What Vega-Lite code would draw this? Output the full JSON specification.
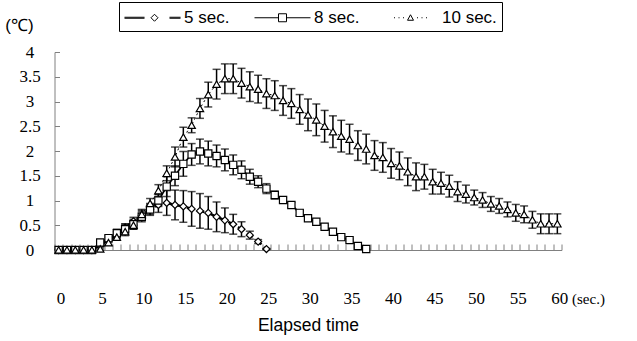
{
 "$schema": "https://vega.github.io/schema/vega-lite/v6.json",
 "width": 507, "height": 198,
 "autosize": "none",
 "padding": {"left": 54.5, "top": 52, "right": 75.5, "bottom": 91},
 "background": "white",
 "config": {"view": {"stroke": null}, "font": "Liberation Sans"},
 "datasets": {"d": [
  {"s":"5 sec.","t":0,"v":0,"e":0},{"s":"5 sec.","t":1,"v":0,"e":0},{"s":"5 sec.","t":2,"v":0,"e":0},{"s":"5 sec.","t":3,"v":0,"e":0},{"s":"5 sec.","t":4,"v":0,"e":0},
  {"s":"5 sec.","t":5,"v":0.1,"e":0.03},{"s":"5 sec.","t":6,"v":0.2,"e":0.05},{"s":"5 sec.","t":7,"v":0.3,"e":0.07},{"s":"5 sec.","t":8,"v":0.45,"e":0.08},{"s":"5 sec.","t":9,"v":0.58,"e":0.08},
  {"s":"5 sec.","t":10,"v":0.7,"e":0.1},{"s":"5 sec.","t":11,"v":0.82,"e":0.1},{"s":"5 sec.","t":12,"v":0.91,"e":0.15},{"s":"5 sec.","t":13,"v":0.95,"e":0.25},{"s":"5 sec.","t":14,"v":0.91,"e":0.3},
  {"s":"5 sec.","t":15,"v":0.88,"e":0.32},{"s":"5 sec.","t":16,"v":0.83,"e":0.35},{"s":"5 sec.","t":17,"v":0.79,"e":0.35},{"s":"5 sec.","t":18,"v":0.75,"e":0.33},{"s":"5 sec.","t":19,"v":0.67,"e":0.3},
  {"s":"5 sec.","t":20,"v":0.6,"e":0.25},{"s":"5 sec.","t":21,"v":0.52,"e":0.2},{"s":"5 sec.","t":22,"v":0.42,"e":0.15},{"s":"5 sec.","t":23,"v":0.3,"e":0.08},{"s":"5 sec.","t":24,"v":0.17,"e":0.04},
  {"s":"5 sec.","t":25,"v":0.02,"e":0.01},
  {"s":"8 sec.","t":0,"v":0,"e":0},{"s":"8 sec.","t":1,"v":0,"e":0},{"s":"8 sec.","t":2,"v":0,"e":0},{"s":"8 sec.","t":3,"v":0,"e":0},{"s":"8 sec.","t":4,"v":0,"e":0},
  {"s":"8 sec.","t":5,"v":0.15,"e":0.03},{"s":"8 sec.","t":6,"v":0.24,"e":0.05},{"s":"8 sec.","t":7,"v":0.34,"e":0.08},{"s":"8 sec.","t":8,"v":0.42,"e":0.1},{"s":"8 sec.","t":9,"v":0.52,"e":0.1},
  {"s":"8 sec.","t":10,"v":0.67,"e":0.1},{"s":"8 sec.","t":11,"v":0.82,"e":0.12},{"s":"8 sec.","t":12,"v":1.0,"e":0.12},{"s":"8 sec.","t":13,"v":1.28,"e":0.2},{"s":"8 sec.","t":14,"v":1.5,"e":0.2},
  {"s":"8 sec.","t":15,"v":1.74,"e":0.25},{"s":"8 sec.","t":16,"v":1.93,"e":0.22},{"s":"8 sec.","t":17,"v":1.99,"e":0.25},{"s":"8 sec.","t":18,"v":1.95,"e":0.25},{"s":"8 sec.","t":19,"v":1.9,"e":0.22},
  {"s":"8 sec.","t":20,"v":1.82,"e":0.22},{"s":"8 sec.","t":21,"v":1.72,"e":0.2},{"s":"8 sec.","t":22,"v":1.62,"e":0.18},{"s":"8 sec.","t":23,"v":1.48,"e":0.15},{"s":"8 sec.","t":24,"v":1.38,"e":0.12},
  {"s":"8 sec.","t":25,"v":1.24,"e":0.1},{"s":"8 sec.","t":26,"v":1.11,"e":0.08},{"s":"8 sec.","t":27,"v":1.01,"e":0.05},{"s":"8 sec.","t":28,"v":0.91,"e":0.05},{"s":"8 sec.","t":29,"v":0.75,"e":0.05},
  {"s":"8 sec.","t":30,"v":0.64,"e":0.03},{"s":"8 sec.","t":31,"v":0.57,"e":0.03},{"s":"8 sec.","t":32,"v":0.47,"e":0.03},{"s":"8 sec.","t":33,"v":0.37,"e":0.03},{"s":"8 sec.","t":34,"v":0.26,"e":0.02},
  {"s":"8 sec.","t":35,"v":0.2,"e":0.02},{"s":"8 sec.","t":36,"v":0.08,"e":0.02},{"s":"8 sec.","t":37,"v":0.02,"e":0.01},
  {"s":"10 sec.","t":0,"v":0,"e":0},{"s":"10 sec.","t":1,"v":0,"e":0},{"s":"10 sec.","t":2,"v":0,"e":0},{"s":"10 sec.","t":3,"v":0,"e":0},{"s":"10 sec.","t":4,"v":0,"e":0},
  {"s":"10 sec.","t":5,"v":0.02,"e":0.02},{"s":"10 sec.","t":6,"v":0.15,"e":0.05},{"s":"10 sec.","t":7,"v":0.26,"e":0.06},{"s":"10 sec.","t":8,"v":0.37,"e":0.08},{"s":"10 sec.","t":9,"v":0.5,"e":0.08},
  {"s":"10 sec.","t":10,"v":0.72,"e":0.1},{"s":"10 sec.","t":11,"v":0.94,"e":0.1},{"s":"10 sec.","t":12,"v":1.2,"e":0.12},{"s":"10 sec.","t":13,"v":1.55,"e":0.15},{"s":"10 sec.","t":14,"v":1.88,"e":0.2},
  {"s":"10 sec.","t":15,"v":2.28,"e":0.2},{"s":"10 sec.","t":16,"v":2.52,"e":0.15},{"s":"10 sec.","t":17,"v":2.86,"e":0.2},{"s":"10 sec.","t":18,"v":3.14,"e":0.25},{"s":"10 sec.","t":19,"v":3.35,"e":0.3},
  {"s":"10 sec.","t":20,"v":3.46,"e":0.3},{"s":"10 sec.","t":21,"v":3.46,"e":0.3},{"s":"10 sec.","t":22,"v":3.37,"e":0.3},{"s":"10 sec.","t":23,"v":3.3,"e":0.3},{"s":"10 sec.","t":24,"v":3.25,"e":0.28},
  {"s":"10 sec.","t":25,"v":3.16,"e":0.3},{"s":"10 sec.","t":26,"v":3.12,"e":0.3},{"s":"10 sec.","t":27,"v":3.02,"e":0.3},{"s":"10 sec.","t":28,"v":2.96,"e":0.3},{"s":"10 sec.","t":29,"v":2.84,"e":0.3},
  {"s":"10 sec.","t":30,"v":2.73,"e":0.32},{"s":"10 sec.","t":31,"v":2.63,"e":0.32},{"s":"10 sec.","t":32,"v":2.5,"e":0.32},{"s":"10 sec.","t":33,"v":2.39,"e":0.32},{"s":"10 sec.","t":34,"v":2.3,"e":0.32},
  {"s":"10 sec.","t":35,"v":2.24,"e":0.3},{"s":"10 sec.","t":36,"v":2.11,"e":0.3},{"s":"10 sec.","t":37,"v":2.04,"e":0.3},{"s":"10 sec.","t":38,"v":1.91,"e":0.3},{"s":"10 sec.","t":39,"v":1.87,"e":0.3},
  {"s":"10 sec.","t":40,"v":1.75,"e":0.3},{"s":"10 sec.","t":41,"v":1.7,"e":0.28},{"s":"10 sec.","t":42,"v":1.58,"e":0.28},{"s":"10 sec.","t":43,"v":1.48,"e":0.28},{"s":"10 sec.","t":44,"v":1.48,"e":0.25},
  {"s":"10 sec.","t":45,"v":1.38,"e":0.25},{"s":"10 sec.","t":46,"v":1.35,"e":0.22},{"s":"10 sec.","t":47,"v":1.29,"e":0.22},{"s":"10 sec.","t":48,"v":1.18,"e":0.2},{"s":"10 sec.","t":49,"v":1.13,"e":0.18},
  {"s":"10 sec.","t":50,"v":1.06,"e":0.15},{"s":"10 sec.","t":51,"v":1.01,"e":0.15},{"s":"10 sec.","t":52,"v":0.93,"e":0.15},{"s":"10 sec.","t":53,"v":0.89,"e":0.15},{"s":"10 sec.","t":54,"v":0.82,"e":0.15},
  {"s":"10 sec.","t":55,"v":0.75,"e":0.17},{"s":"10 sec.","t":56,"v":0.72,"e":0.17},{"s":"10 sec.","t":57,"v":0.61,"e":0.17},{"s":"10 sec.","t":58,"v":0.53,"e":0.2},{"s":"10 sec.","t":59,"v":0.53,"e":0.2},
  {"s":"10 sec.","t":60,"v":0.53,"e":0.2}
 ]},
 "data": {"name": "d"},
 "encoding": {
  "x": {"field": "t", "type": "quantitative",
   "scale": {"domain": [-0.5, 60.5], "nice": false, "zero": false},
   "axis": {
    "values": [-0.5,0.5,1.5,2.5,3.5,4.5,5.5,6.5,7.5,8.5,9.5,10.5,11.5,12.5,13.5,14.5,15.5,16.5,17.5,18.5,19.5,20.5,21.5,22.5,23.5,24.5,25.5,26.5,27.5,28.5,29.5,30.5,31.5,32.5,33.5,34.5,35.5,36.5,37.5,38.5,39.5,40.5,41.5,42.5,43.5,44.5,45.5,46.5,47.5,48.5,49.5,50.5,51.5,52.5,53.5,54.5,55.5,56.5,57.5,58.5,59.5,60.5],
    "labelExpr": "datum.value > 60 ? '(sec.)' : ((datum.value + 0.5) % 5 === 0 ? format(datum.value + 0.5, 'd') : '')",
    "labelOffset": {"condition": {"test": "datum.value > 60", "value": 10}, "value": 6},
    "labelOverlap": false, "labelBound": false, "labelFlush": false,
    "labelAlign": {"condition": {"test": "datum.value > 60", "value": "left"}, "value": "center"},
    "labelFont": {"condition": {"test": "datum.value > 60", "value": "Liberation Serif"}, "value": "Liberation Sans Narrow"},
    "labelFontSize": {"condition": {"test": "datum.value > 60", "value": 15}, "value": 17},
    "labelBaseline": "middle", "labelPadding": 54, "labelColor": "black",
    "tickSize": -6, "tickColor": "#808080", "domainColor": "#808080", "grid": false,
    "title": "Elapsed time", "titleY": 75, "titleBaseline": "middle", "titleFontWeight": "normal",
    "titleFontSize": 17.5, "titleFont": "Liberation Sans", "titleColor": "black"
   }},
  "y": {"field": "v", "type": "quantitative",
   "scale": {"domain": [0, 4], "nice": false},
   "axis": {
    "values": [0,0.5,1,1.5,2,2.5,3,3.5,4], "format": "~g",
    "tickSize": -5, "tickColor": "#808080", "domainColor": "#808080", "grid": false,
    "labelAlign": "center", "labelBaseline": "middle", "labelPadding": 30,
    "labelFont": "Liberation Sans Narrow", "labelFontSize": 17, "labelColor": "black",
    "title": "(℃)", "titleAngle": 0, "titleX": -35.5, "titleY": -27, "titleAlign": "center",
    "titleBaseline": "middle", "titleFontWeight": "normal", "titleFontSize": 17, "titleColor": "black",
    "titleFont": "Liberation Sans"
   }}
 },
 "layer": [
  {"mark": {"type": "line", "color": "black"},
   "encoding": {
    "strokeDash": {"field": "s", "type": "nominal", "scale": {"domain": ["5 sec.","8 sec.","10 sec."], "range": [[7,4],[1,0],[2,3]]}, "legend": null},
    "strokeWidth": {"field": "s", "type": "ordinal", "scale": {"domain": ["5 sec.","8 sec.","10 sec."], "range": [2.5,1,1]}, "legend": null}
   }},
  {"transform": [{"filter": "datum.e > 0"}],
   "mark": {"type": "errorbar", "ticks": true, "size": 8, "thickness": 1.5, "color": "black"},
   "encoding": {"yError": {"field": "e"}}},
  {"mark": {"type": "point", "filled": false, "fill": "white", "stroke": "black", "strokeWidth": 1.2, "opacity": 1},
   "encoding": {
    "shape": {"field": "s", "type": "nominal", "scale": {"domain": ["5 sec.","8 sec.","10 sec."], "range": ["diamond","square","triangle-up"]}, "legend": null},
    "size": {"field": "s", "type": "ordinal", "scale": {"domain": ["5 sec.","8 sec.","10 sec."], "range": [50,55,70]}, "legend": null}
   }},
  {"transform": [{"filter": "datum.t == 0"}],
   "mark": {"type": "point", "opacity": 0},
   "encoding": {
    "shape": {"field": "s", "type": "nominal",
     "scale": {"domain": ["5 sec.","8 sec.","10 sec."], "range": [
      "M-1,-0.05H1M-1,0.05H1M1.65,0L2,-0.35L2.35,0L2,0.35ZM3.5,-0.05H4.6M3.5,0.05H4.6",
      "M-1,0H1.4M1.4,-0.4H2.2V0.4H1.4ZM2.2,0H4.6",
      "M0.15,0H0.25M0.6,0H0.7M1.05,0H1.15M1.5,0.25L1.8,-0.3L2.1,0.25ZM2.45,0H2.55M2.9,0H3.0M3.35,0H3.45"
     ]},
     "legend": {"orient": "none", "legendX": 64.5, "legendY": -50, "direction": "horizontal", "title": null,
      "strokeColor": "black", "padding": 5, "symbolSize": 400, "symbolOpacity": 1,
      "symbolFillColor": "white", "symbolStrokeColor": "black", "symbolStrokeWidth": 1,
      "labelFont": "Liberation Sans", "labelFontSize": 17, "labelColor": "black", "labelOffset": 39, "columnPadding": 22}
    }}}
 ],
 "resolve": {"scale": {"shape": "independent"}}
}
